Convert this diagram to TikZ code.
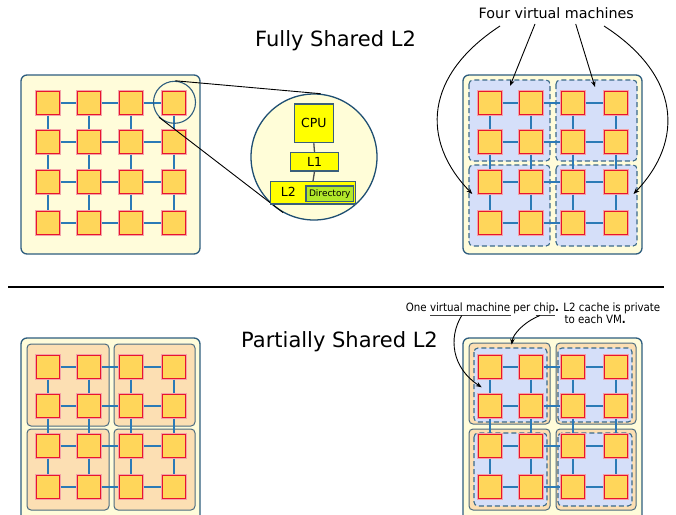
\documentclass[tikz,border=0pt]{standalone}
\usepackage{fontspec}
\setmainfont{DejaVu Sans}
\newfontfamily\condfont{DejaVu Sans Condensed}
\usetikzlibrary{arrows.meta}

\definecolor{chipfill}{HTML}{FFFCDA}
\definecolor{chipline}{HTML}{2E5D7E}
\definecolor{corefill}{HTML}{FFD65A}
\definecolor{coreline}{HTML}{E8152E}
\definecolor{corehalo}{HTML}{F3A2A8}
\definecolor{linkc}{HTML}{2B7AB6}
\definecolor{linkhalo}{HTML}{A9CBE3}
\definecolor{vmfill}{HTML}{D5DFF9}
\definecolor{vmline}{HTML}{3B6A89}
\definecolor{tilefill}{HTML}{FCDFB3}
\definecolor{tileline}{HTML}{4C6B80}
\definecolor{lensfill}{HTML}{FFFDD8}
\definecolor{lensline}{HTML}{1F4F72}
\definecolor{unitfill}{HTML}{FFFF00}
\definecolor{unitline}{HTML}{3A5F7A}
\definecolor{dirfill}{HTML}{B2E82A}

\tikzset{
  chip/.style={draw=chipline, fill=chipfill, line width=1.3pt, rounded corners=6pt},
  tile/.style={draw=tileline, fill=tilefill, line width=1pt, rounded corners=4pt},
  vmzone/.style={draw=vmline, fill=vmfill, line width=1.1pt, dash pattern=on 5pt off 3pt, rounded corners=4pt},
  core/.style={draw=coreline, fill=corefill, line width=1.3pt, minimum size=23.5pt,
    inner sep=0pt, outer sep=0.8pt, preaction={draw=corehalo, line width=3.1pt}},
  link/.style={draw=linkc, line width=1.6pt, preaction={draw=linkhalo, line width=2.8pt}},
  unit/.style={draw=unitline, fill=unitfill, line width=1.2pt, inner sep=0pt,
    font=\fontsize{12.5}{14}\selectfont},
  wire/.style={draw=black!70, line width=1.3pt},
  callout/.style={draw=black, line width=0.9pt, -{Stealth[length=6pt,width=4.6pt]}},
  uline/.style={draw=black!75, line width=0.9pt},
  title/.style={anchor=base, font=\fontsize{21}{25}\selectfont},
}

% a 4x4 mesh of cores named #1-row-col, first core centred at (#2,#3)
\newcommand\coregrid[3]{%
  \foreach \c/\dx in {1/0,2/41,3/83,4/126}{%
    \foreach \r/\dy in {1/0,2/39,3/79,4/120}{%
      \node[core] (#1-\r-\c) at (#2+\dx,#3+\dy) {};
    }}%
  \foreach \r in {1,2,3,4}{%
    \foreach \c/\n in {1/2,2/3,3/4}{%
      \draw[link] (#1-\r-\c) -- (#1-\r-\n);
    }}%
  \foreach \c in {1,2,3,4}{%
    \foreach \r/\n in {1/2,2/3,3/4}{%
      \draw[link] (#1-\r-\c) -- (#1-\n-\c);
    }}%
}

\begin{document}
\begin{tikzpicture}[x=1pt,y=-1pt]
\useasboundingbox[fill=white] (0,0) rectangle (676,514);

% ---------------- fully shared L2 ----------------
\node[title] (fulltitle) at (335.5,46) {Fully Shared L2};

% chip with one shared L2
\draw[chip] (21,75) rectangle (200,254);
\coregrid{A}{48}{103}

% magnified tile
\node[circle, draw=lensline, fill=lensfill, line width=1.3pt, minimum size=126pt, inner sep=0pt] (lens) at (314,157) {};
\node[circle, draw=chipline, line width=1.1pt, minimum size=42pt, inner sep=0pt] (mag) at (174.5,102.3) {};
\draw[black, line width=0.9pt] (mag.88) -- (lens.84);
\draw[black, line width=0.9pt] (mag.224) -- (lens.241);

\node[unit, minimum width=39pt, minimum height=38.7pt] (cpu) at (313.8,123.3) {CPU};
\node[unit, minimum width=47.6pt, minimum height=18.3pt] (l1) at (314.5,161.8) {L1};
\node[unit, minimum width=84.6pt, minimum height=22.3pt] (l2) at (313,192.8) {};
\node[anchor=base, font=\fontsize{12.5}{14}\selectfont] (l2text) at (288.3,196.7) {L2};
\node[draw=unitline, fill=dirfill, line width=1.1pt, inner sep=0pt, minimum width=47.7pt,
      minimum height=15.7pt, font=\fontsize{9}{10}\selectfont] (dir) at (329.8,193.8) {Directory};
\draw[wire] (cpu.south) -- (l1.north);
\draw[wire] (l1.south) -- (l2.north);

% chip split into four virtual machines
\draw[chip] (463,75) rectangle (642,254);
\draw[vmzone] (469,80) rectangle (550,161);
\draw[vmzone] (556,80) rectangle (637,161);
\draw[vmzone] (469,165) rectangle (550,246);
\draw[vmzone] (556,165) rectangle (637,246);
\coregrid{B}{490}{103}

\node[anchor=base, font=\fontsize{14.3}{16}\selectfont] (fourvm) at (556.3,18.3) {Four virtual machines};
\coordinate (fa) at (500,26);
\coordinate (fb) at (535,24);
\coordinate (fc) at (575.7,24);
\coordinate (fd) at (604,26);
\coordinate (vmA) at (510,86);
\coordinate (vmB) at (595,87);
\coordinate (vmC) at (472.3,194);
\coordinate (vmD) at (633.5,194);
\draw[callout] (fa) .. controls (425,75) and (420,140) .. (vmC);
\draw[callout] (fb) -- (vmA);
\draw[callout] (fc) -- (vmB);
\draw[callout] (fd) .. controls (680,75) and (685,140) .. (vmD);

% separator
\draw[black, line width=2.5pt] (8,287) -- (664,287);

% ---------------- partially shared L2 ----------------
\node[title] (parttitle) at (339.5,347.7) {Partially Shared L2};

% chip with four L2 slices
\draw[chip] (21,338) rectangle (200,522);
\draw[tile] (27,344) rectangle (109,426);
\draw[tile] (114,344) rectangle (195,426);
\draw[tile] (27,429) rectangle (109,510);
\draw[tile] (114,429) rectangle (195,510);
\coregrid{C}{48}{367}

% one virtual machine per slice
\draw[chip] (463,338) rectangle (642,522);
\draw[tile] (469,343) rectangle (550,424);
\draw[tile] (556,343) rectangle (636,424);
\draw[tile] (469,429) rectangle (550,510);
\draw[tile] (556,429) rectangle (636,510);
\draw[vmzone] (474,348) rectangle (547,422);
\draw[vmzone] (558,348) rectangle (632,422);
\draw[vmzone] (474,433) rectangle (547,506);
\draw[vmzone] (558,433) rectangle (632,506);
\coregrid{D}{490}{367}

\node[anchor=base west, inner sep=0pt, font=\condfont\fontsize{11.4}{13}\selectfont] (note1) at (405.7,311.7)
  {One virtual machine per chip{\bfseries.} L2 cache is private};
\node[anchor=base west, inner sep=0pt, font=\condfont\fontsize{11.4}{13}\selectfont] (note2) at (564.3,323.3)
  {to each VM{\bfseries.}};
\coordinate (ua) at (430,315.5);
\coordinate (ub) at (510.7,315.5);
\coordinate (uc) at (535.7,315.5);
\coordinate (ud) at (555,315.5);
\draw[uline] (ua) -- (ub);
\draw[uline] (uc) -- (ud);
\coordinate (na) at (461.7,315.5);
\coordinate (nb) at (540,315.5);
\coordinate (vmE) at (481.7,387.3);
\coordinate (vmF) at (511.7,344.7);
\draw[callout] (na) .. controls (448,338) and (452,368) .. (vmE);
\draw[callout] (nb) .. controls (524,322) and (513,334) .. (vmF);
\end{tikzpicture}
\end{document}
